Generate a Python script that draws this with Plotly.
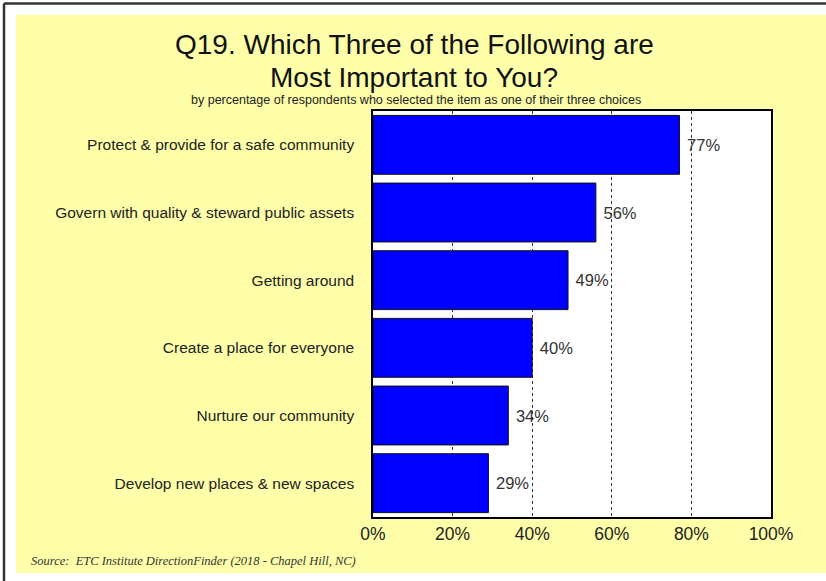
import plotly.graph_objects as go

categories = [
    "Protect & provide for a safe community",
    "Govern with quality & steward public assets",
    "Getting around",
    "Create a place for everyone",
    "Nurture our community",
    "Develop new places & new spaces",
]
values = [77, 56, 49, 40, 34, 29]
tick_vals = [0, 20, 40, 60, 80, 100]
tick_text = ["0%", "20%", "40%", "60%", "80%", "100%"]

W, H = 826, 581
L, R, T, B = 373, 771, 111, 517  # plot area in px

def px(x):
    return (x - L) / (R - L)

def py(y):
    return (B - y) / (B - T)

fig = go.Figure(go.Bar(
    x=values, y=categories, orientation="h",
    marker=dict(color="#0000FF", line=dict(color="#111111", width=1)),
    text=[f" {v}%" for v in values], textposition="outside",
    textfont=dict(family="Liberation Sans, Arial", size=16.5, color="#333333"),
    cliponaxis=False, width=0.87,
))

shapes = [
    dict(type="rect", xref="paper", yref="paper", x0=px(16), x1=px(826), y0=py(15), y1=py(573),
         fillcolor="#FFFFAA", line=dict(width=0), layer="below"),
    dict(type="rect", xref="paper", yref="paper", x0=0, x1=1, y0=0, y1=1,
         fillcolor="white", line=dict(width=0), layer="below"),
    dict(type="line", xref="paper", yref="paper", x0=px(4), x1=px(826), y0=py(3.5), y1=py(3.5),
         line=dict(color="#333333", width=2.5), layer="above"),
    dict(type="line", xref="paper", yref="paper", x0=px(4), x1=px(4), y0=py(3.5), y1=py(581),
         line=dict(color="#333333", width=2.5), layer="above"),
]

annotations = [
    dict(text="Q19. Which Three of the Following are", xref="paper", yref="paper",
         x=px(414), y=py(44), xanchor="center", yanchor="middle", showarrow=False,
         font=dict(family="Liberation Sans, Arial", size=28, color="#111111")),
    dict(text="Most Important to You?", xref="paper", yref="paper",
         x=px(414), y=py(77), xanchor="center", yanchor="middle", showarrow=False,
         font=dict(family="Liberation Sans, Arial", size=28, color="#111111")),
    dict(text="by percentage of respondents who selected the item as one of their three choices",
         xref="paper", yref="paper", x=px(416), y=py(100.5), xanchor="center", yanchor="middle",
         showarrow=False, font=dict(family="Liberation Sans, Arial", size=12.5, color="#222222")),
    dict(text="<i>Source:  ETC Institute DirectionFinder (2018 - Chapel Hill, NC)</i>",
         xref="paper", yref="paper", x=px(29), y=py(561), xanchor="left", yanchor="middle",
         showarrow=False, font=dict(family="Liberation Serif, Times New Roman", size=12.5, color="#333333")),
]

fig.update_layout(
    width=W, height=H,
    margin=dict(l=L, r=W - R, t=T, b=H - B, pad=0),
    paper_bgcolor="white", plot_bgcolor="white",
    showlegend=False, bargap=0.13,
    shapes=shapes, annotations=annotations,
    xaxis=dict(range=[0, 100], tickvals=tick_vals, ticktext=tick_text,
               showgrid=True, gridcolor="#333333", griddash="dot", gridwidth=1.3,
               showline=True, linecolor="black", linewidth=1.5, mirror=True,
               ticks="", zeroline=False,
               tickfont=dict(family="Liberation Sans, Arial", size=17.5, color="#222222")),
    yaxis=dict(categoryorder="array", categoryarray=categories[::-1],
               showline=True, linecolor="black", linewidth=1.5, mirror=True,
               ticks="", ticklabelstandoff=14, showgrid=False,
               tickfont=dict(family="Liberation Sans, Arial", size=15.5, color="#222222")),
)

fig.write_html("out.html")
